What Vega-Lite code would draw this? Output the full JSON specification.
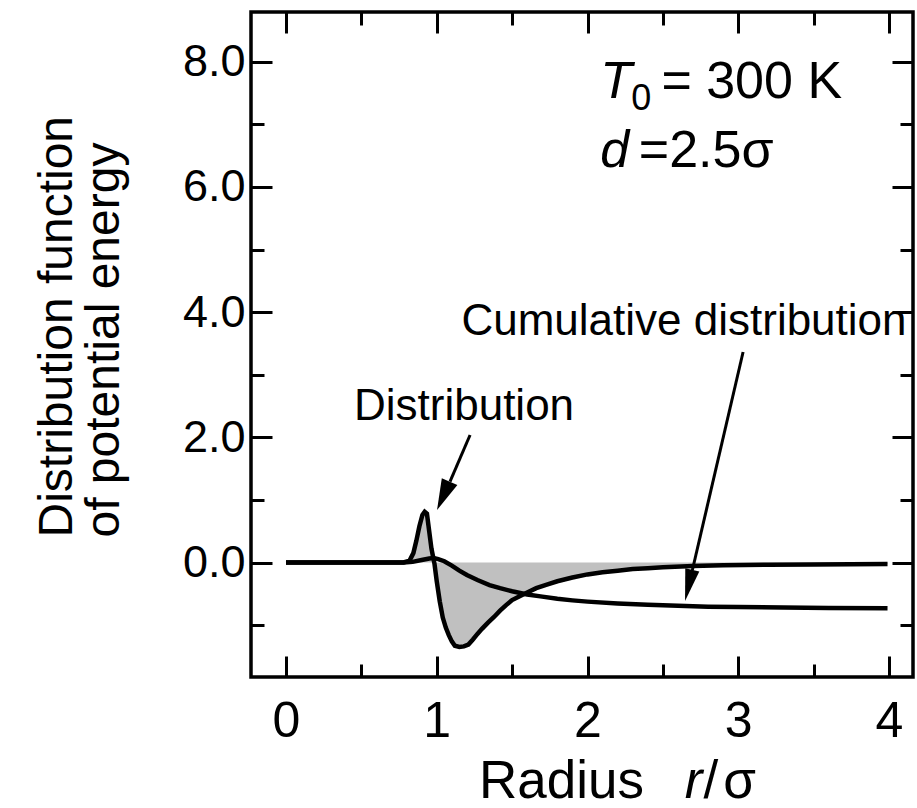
{
  "$schema": "https://vega.github.io/schema/vega-lite/v6.json",
  "width": 662,
  "height": 665,
  "autosize": "none",
  "padding": {"left": 251, "top": 12, "right": 4, "bottom": 131},
  "background": "white",
  "config": {
    "view": {"stroke": "black", "strokeWidth": 3.5},
    "axis": {"grid": false, "domain": false, "tickColor": "black", "tickWidth": 3, "labelColor": "black", "labelFont": "Liberation Sans", "titleColor": "black", "titleFontWeight": "normal"}
  },
  "resolve": {"axis": {"x": "independent", "y": "independent"}},
  "datasets": {
    "dist": [
      {"r": 0, "g": 0}, {"r": 0.4, "g": 0}, {"r": 0.78, "g": 0}, {"r": 0.82, "g": 0.03}, {"r": 0.845, "g": 0.15},
      {"r": 0.865, "g": 0.35}, {"r": 0.885, "g": 0.58}, {"r": 0.905, "g": 0.76}, {"r": 0.92, "g": 0.81}, {"r": 0.935, "g": 0.78},
      {"r": 0.95, "g": 0.5}, {"r": 0.965, "g": 0.22}, {"r": 0.985, "g": -0.02}, {"r": 1.0, "g": -0.3}, {"r": 1.02, "g": -0.62},
      {"r": 1.04, "g": -0.88}, {"r": 1.06, "g": -1.04}, {"r": 1.08, "g": -1.16}, {"r": 1.1, "g": -1.26}, {"r": 1.12, "g": -1.33},
      {"r": 1.15, "g": -1.35}, {"r": 1.18, "g": -1.34}, {"r": 1.21, "g": -1.31}, {"r": 1.24, "g": -1.23}, {"r": 1.27, "g": -1.14},
      {"r": 1.3, "g": -1.06}, {"r": 1.34, "g": -0.96}, {"r": 1.38, "g": -0.87}, {"r": 1.42, "g": -0.77}, {"r": 1.46, "g": -0.68},
      {"r": 1.5, "g": -0.6}, {"r": 1.55, "g": -0.54}, {"r": 1.6, "g": -0.48}, {"r": 1.66, "g": -0.41}, {"r": 1.72, "g": -0.36},
      {"r": 1.8, "g": -0.3}, {"r": 1.9, "g": -0.24}, {"r": 2.0, "g": -0.19}, {"r": 2.1, "g": -0.155}, {"r": 2.2, "g": -0.13},
      {"r": 2.3, "g": -0.105}, {"r": 2.4, "g": -0.09}, {"r": 2.5, "g": -0.075}, {"r": 2.7, "g": -0.055}, {"r": 2.9, "g": -0.045},
      {"r": 3.2, "g": -0.035}, {"r": 3.5, "g": -0.03}, {"r": 3.99, "g": -0.025}
    ],
    "cum": [
      {"r": 0, "c": 0}, {"r": 0.78, "c": 0}, {"r": 0.84, "c": 0.01}, {"r": 0.9, "c": 0.04}, {"r": 0.95, "c": 0.065},
      {"r": 0.98, "c": 0.07}, {"r": 1.01, "c": 0.055}, {"r": 1.05, "c": 0.02}, {"r": 1.1, "c": -0.05}, {"r": 1.15, "c": -0.13},
      {"r": 1.2, "c": -0.2}, {"r": 1.27, "c": -0.28}, {"r": 1.35, "c": -0.36}, {"r": 1.42, "c": -0.41}, {"r": 1.5, "c": -0.46},
      {"r": 1.6, "c": -0.51}, {"r": 1.7, "c": -0.545}, {"r": 1.8, "c": -0.58}, {"r": 1.9, "c": -0.605}, {"r": 2.0, "c": -0.625},
      {"r": 2.2, "c": -0.655}, {"r": 2.4, "c": -0.675}, {"r": 2.6, "c": -0.69}, {"r": 2.8, "c": -0.705}, {"r": 3.0, "c": -0.712},
      {"r": 3.3, "c": -0.72}, {"r": 3.6, "c": -0.725}, {"r": 3.99, "c": -0.73}
    ],
    "arrows": [
      {"id": "a1", "x": 1.221, "y": 2.037, "x2": 1.088, "y2": 1.291, "tx": 1.002, "ty": 0.839},
      {"id": "a2", "x": 3.032, "y": 3.363, "x2": 2.695, "y2": -0.128, "tx": 2.647, "ty": -0.615}
    ],
    "labels": [
      {"kind": "note", "x": 1.181, "y": 2.276, "text": "Distribution"},
      {"kind": "note", "x": 2.64, "y": 3.634, "text": "Cumulative distribution"},
      {"kind": "head", "x": 2.49, "y": 7.42, "text": "= 300 K"},
      {"kind": "head", "x": 2.34, "y": 6.318, "text": "=2.5σ"},
      {"kind": "headItalic", "x": 2.085, "y": 7.42, "text": "T"},
      {"kind": "headItalic", "x": 2.085, "y": 6.318, "text": "d"},
      {"kind": "sub", "x": 2.29, "y": 7.23, "text": "0"},
      {"kind": "xtitle", "x": 1.28, "y": -3.76, "text": "Radius"},
      {"kind": "xtitle", "x": 2.77, "y": -3.76, "text": "/"},
      {"kind": "xtitle", "x": 2.9, "y": -3.76, "text": "σ"},
      {"kind": "xtitleItalic", "x": 2.645, "y": -3.76, "text": "r"}
    ]
  },
  "layer": [
    {
      "data": {"name": "dist"},
      "mark": {"type": "area", "color": "#c0c0c0", "clip": true},
      "encoding": {
        "x": {"field": "r", "type": "quantitative", "scale": {"domain": [-0.232, 4.159], "nice": false, "zero": false},
          "axis": {"orient": "bottom", "values": [0, 1, 2, 3, 4], "format": "d", "tickSize": -21, "labelPadding": 40, "labelFontSize": 50, "title": null}},
        "y": {"field": "g", "type": "quantitative", "scale": {"domain": [-1.829, 8.794], "nice": false, "zero": false},
          "axis": {"orient": "left", "values": [0, 2, 4, 6, 8], "format": ".1f", "tickSize": -21, "labelPadding": 27, "labelFontSize": 45,
            "title": ["Distribution function", "of potential energy"], "titleFont": "Liberation Sans", "titleFontSize": 48, "titleLineHeight": 47,
            "titleAngle": -90, "titleAlign": "left", "titleBaseline": "alphabetic", "titleX": -180, "titleY": 525}},
        "y2": {"datum": 0}
      }
    },
    {
      "data": {"name": "dist"},
      "mark": {"type": "line", "color": "black", "strokeWidth": 4.5, "clip": true},
      "encoding": {
        "x": {"field": "r", "type": "quantitative", "scale": {"domain": [-0.232, 4.159], "nice": false, "zero": false},
          "axis": {"orient": "top", "values": [0, 1, 2, 3, 4], "tickSize": -21, "labels": false, "title": null}},
        "y": {"field": "g", "type": "quantitative", "scale": {"domain": [-1.829, 8.794], "nice": false, "zero": false},
          "axis": {"orient": "right", "values": [0, 2, 4, 6, 8], "tickSize": -21, "labels": false, "title": null}}
      }
    },
    {
      "data": {"name": "cum"},
      "mark": {"type": "line", "color": "black", "strokeWidth": 4.5, "clip": true},
      "encoding": {
        "x": {"field": "r", "type": "quantitative", "scale": {"domain": [-0.232, 4.159], "nice": false, "zero": false},
          "axis": {"orient": "bottom", "values": [0.5, 1.5, 2.5, 3.5], "tickSize": -13, "labels": false, "title": null}},
        "y": {"field": "c", "type": "quantitative", "scale": {"domain": [-1.829, 8.794], "nice": false, "zero": false},
          "axis": {"orient": "left", "values": [-1, 1, 3, 5, 7], "tickSize": -13, "labels": false, "title": null}}
      }
    },
    {
      "data": {"name": "arrows"},
      "mark": {"type": "rule", "color": "black", "strokeWidth": 3},
      "encoding": {
        "x": {"field": "x", "type": "quantitative", "scale": {"domain": [-0.232, 4.159], "nice": false, "zero": false},
          "axis": {"orient": "top", "values": [0.5, 1.5, 2.5, 3.5], "tickSize": -13, "labels": false, "title": null}},
        "y": {"field": "y", "type": "quantitative", "scale": {"domain": [-1.829, 8.794], "nice": false, "zero": false},
          "axis": {"orient": "right", "values": [-1, 1, 3, 5, 7], "tickSize": -13, "labels": false, "title": null}},
        "x2": {"field": "x2"},
        "y2": {"field": "y2"}
      }
    },
    {
      "data": {"name": "arrows"},
      "transform": [{"filter": "datum.id === 'a1'"}],
      "mark": {"type": "point", "shape": "M0,0L0.55,2L-0.55,2Z", "size": 961, "angle": 203.9, "filled": true, "color": "black", "opacity": 1, "strokeWidth": 0},
      "encoding": {
        "x": {"field": "tx", "type": "quantitative", "axis": null},
        "y": {"field": "ty", "type": "quantitative", "axis": null}
      }
    },
    {
      "data": {"name": "arrows"},
      "transform": [{"filter": "datum.id === 'a2'"}],
      "mark": {"type": "point", "shape": "M0,0L0.45,2L-0.45,2Z", "size": 1024, "angle": 193.1, "filled": true, "color": "black", "opacity": 1, "strokeWidth": 0},
      "encoding": {
        "x": {"field": "tx", "type": "quantitative", "axis": null},
        "y": {"field": "ty", "type": "quantitative", "axis": null}
      }
    },
    {
      "data": {"name": "labels"},
      "transform": [{"filter": "datum.kind === 'note'"}],
      "mark": {"type": "text", "font": "Liberation Sans", "fontSize": 44, "align": "center", "baseline": "alphabetic", "color": "black"},
      "encoding": {
        "x": {"field": "x", "type": "quantitative", "axis": null},
        "y": {"field": "y", "type": "quantitative", "axis": null},
        "text": {"field": "text"}
      }
    },
    {
      "data": {"name": "labels"},
      "transform": [{"filter": "datum.kind === 'head'"}],
      "mark": {"type": "text", "font": "Liberation Sans", "fontSize": 52, "align": "left", "baseline": "alphabetic", "color": "black"},
      "encoding": {
        "x": {"field": "x", "type": "quantitative", "axis": null},
        "y": {"field": "y", "type": "quantitative", "axis": null},
        "text": {"field": "text"}
      }
    },
    {
      "data": {"name": "labels"},
      "transform": [{"filter": "datum.kind === 'headItalic'"}],
      "mark": {"type": "text", "font": "Liberation Sans", "fontStyle": "italic", "fontSize": 52, "align": "left", "baseline": "alphabetic", "color": "black"},
      "encoding": {
        "x": {"field": "x", "type": "quantitative", "axis": null},
        "y": {"field": "y", "type": "quantitative", "axis": null},
        "text": {"field": "text"}
      }
    },
    {
      "data": {"name": "labels"},
      "transform": [{"filter": "datum.kind === 'sub'"}],
      "mark": {"type": "text", "font": "Liberation Sans", "fontSize": 36, "align": "left", "baseline": "alphabetic", "color": "black"},
      "encoding": {
        "x": {"field": "x", "type": "quantitative", "axis": null},
        "y": {"field": "y", "type": "quantitative", "axis": null},
        "text": {"field": "text"}
      }
    },
    {
      "data": {"name": "labels"},
      "transform": [{"filter": "datum.kind === 'xtitle'"}],
      "mark": {"type": "text", "font": "Liberation Sans", "fontSize": 53, "align": "left", "baseline": "alphabetic", "color": "black"},
      "encoding": {
        "x": {"field": "x", "type": "quantitative", "axis": null},
        "y": {"field": "y", "type": "quantitative", "axis": null},
        "text": {"field": "text"}
      }
    },
    {
      "data": {"name": "labels"},
      "transform": [{"filter": "datum.kind === 'xtitleItalic'"}],
      "mark": {"type": "text", "font": "Liberation Sans", "fontStyle": "italic", "fontSize": 53, "align": "left", "baseline": "alphabetic", "color": "black"},
      "encoding": {
        "x": {"field": "x", "type": "quantitative", "axis": null},
        "y": {"field": "y", "type": "quantitative", "axis": null},
        "text": {"field": "text"}
      }
    }
  ]
}
